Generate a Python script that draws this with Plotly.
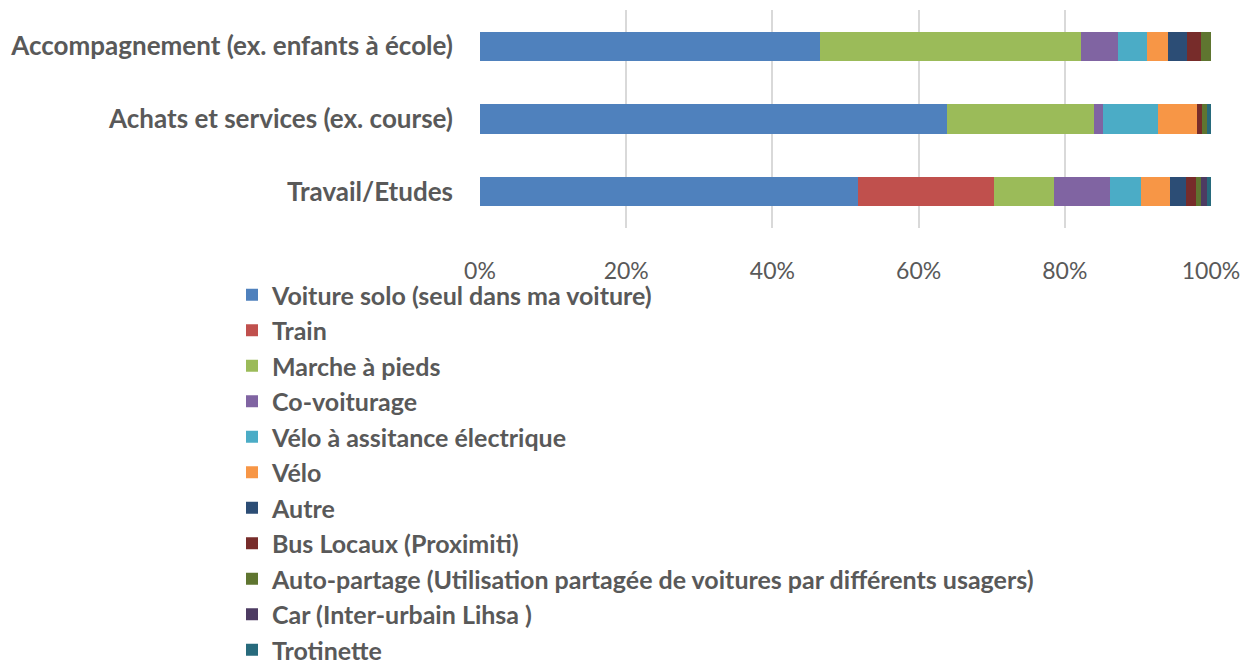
import plotly.graph_objects as go

categories = ["Travail/Etudes", "Achats et services (ex. course)", "Accompagnement (ex. enfants à école)"]

modes = [
    "Voiture solo (seul dans ma voiture)",
    "Train",
    "Marche à pieds",
    "Co-voiturage",
    "Vélo à assitance électrique",
    "Vélo",
    "Autre",
    "Bus Locaux (Proximiti)",
    "Auto-partage (Utilisation partagée de voitures par différents usagers)",
    "Car (Inter-urbain Lihsa )",
    "Trotinette",
]

# values per mode, ordered as categories: [Travail, Achats, Accompagnement]
voiture_solo = [51.7, 63.9, 46.5]
train = [18.6, 0.0, 0.0]
marche = [8.2, 20.1, 35.7]
covoiturage = [7.7, 1.2, 5.1]
vae = [4.2, 7.5, 3.9]
velo = [4.0, 5.4, 2.9]
autre = [2.2, 0.0, 2.6]
bus_locaux = [1.3, 0.7, 1.9]
auto_partage = [0.7, 0.7, 1.4]
car = [0.8, 0.0, 0.0]
trotinette = [0.6, 0.5, 0.0]

series = [voiture_solo, train, marche, covoiturage, vae, velo, autre,
          bus_locaux, auto_partage, car, trotinette]

colors = ["#4F81BD", "#C0504D", "#9BBB59", "#8064A2", "#4BACC6", "#F79646",
          "#2C4D75", "#772C2A", "#5F7530", "#4D3B62", "#276A7C"]

tick_vals = [0, 20, 40, 60, 80, 100]
tick_text = ["0%", "20%", "40%", "60%", "80%", "100%"]

W, H = 1243, 670
L, R, T = 472, 40, 2
PH = 218
B = H - T - PH

fig = go.Figure()
for i, (name, vals) in enumerate(zip(modes, series)):
    fig.add_trace(go.Bar(
        y=categories, x=vals, name=name, orientation="h",
        marker=dict(color=colors[i], line=dict(width=0)),
        legendgroup=f"g{i}",
        hoverinfo="x+name",
    ))

fig.update_layout(
    barmode="stack",
    bargap=0.6,
    width=W, height=H,
    margin=dict(l=L, r=R, t=T, b=B, autoexpand=False),
    plot_bgcolor="white", paper_bgcolor="white",
    font=dict(family="Lato, sans-serif", color="#595959"),
    xaxis=dict(
        range=[0, 100], tickvals=tick_vals, ticktext=tick_text,
        showgrid=True, gridcolor="#D9D9D9", gridwidth=2,
        zeroline=False, showline=False,
        tickfont=dict(size=23, color="#595959", family="Lato, sans-serif"),
        ticklabelstandoff=27,
    ),
    yaxis=dict(
        showgrid=False, zeroline=False, showline=False,
        tickfont=dict(size=26, color="#595959", family="Lato, sans-serif", weight="bold"),
        ticklabelstandoff=26,
    ),
    legend=dict(
        orientation="v",
        x=(224 - L) / 731, xanchor="left",
        y=(T + PH - 264) / PH, yanchor="top",
        font=dict(size=25, color="#595959", family="Lato, sans-serif", weight="bold"),
        tracegroupgap=0,
        maxheight=620,
        itemclick=False,
        traceorder="grouped",
        bgcolor="rgba(0,0,0,0)",
    ),
)

fig.write_html("out.html")
